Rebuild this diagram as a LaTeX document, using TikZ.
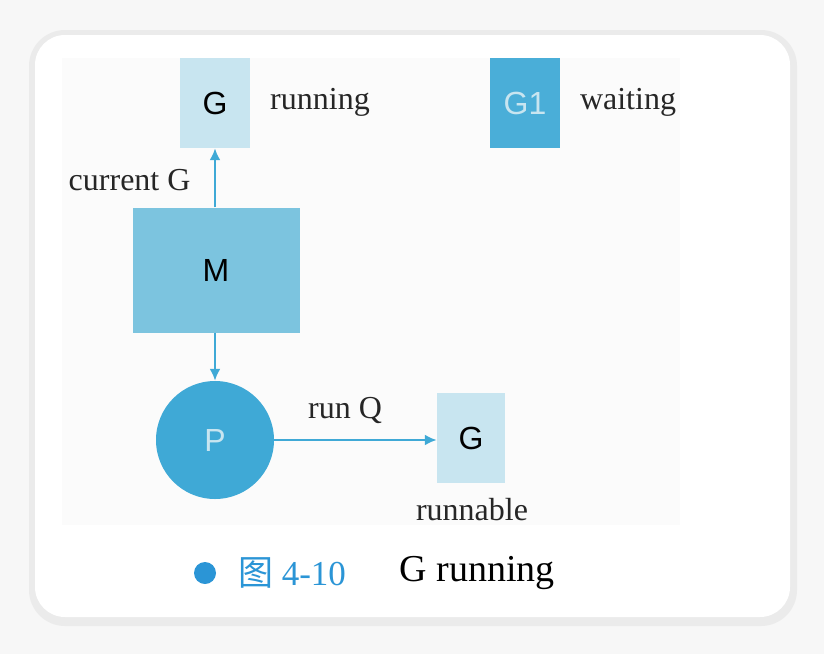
\documentclass[tikz,border=0pt]{standalone}
\usepackage{fontspec}
\setmainfont{Liberation Serif}
\newfontfamily\sansf{Liberation Sans}
\newfontfamily\cjk{Noto Sans CJK SC}
\usetikzlibrary{arrows.meta}
\definecolor{lightg}{HTML}{C8E5F0}
\definecolor{darkg}{HTML}{4AAED8}
\definecolor{mcol}{HTML}{7CC4DF}
\definecolor{pcol}{HTML}{3FA9D6}
\definecolor{capblue}{HTML}{2B95D6}
\tikzset{
 x=1pt,y=-1pt,
 box/.style={draw=none,inner sep=0pt,font=\sansf\fontsize{32}{32}\selectfont},
 lbl/.style={font=\fontsize{32}{32}\selectfont,text=black!85},
 arr/.style={draw=pcol,line width=2.4pt,-{Latex[length=12pt,width=11pt]}}
}
\begin{document}
\begin{tikzpicture}
\useasboundingbox (0,0) rectangle (824,654);
\fill[black!3] (0,0) rectangle (824,654);
\fill[black!8,rounded corners=36pt] (29,30) rectangle (797,626);
\fill[white,rounded corners=30pt] (35,35) rectangle (790,617);
\fill[black!1.5] (62,58) rectangle (680,525);
\node[box,fill=lightg,minimum width=70pt,minimum height=90pt] (g) at (215,103) {G};
\node[lbl] (grun) at (320,102) {running};
\node[box,fill=darkg,minimum width=70pt,minimum height=90pt,text=lightg] (g1) at (525,103) {G1};
\node[lbl] (gwait) at (628,102) {waiting};
\node[box,fill=mcol,minimum width=167pt,minimum height=125pt] (m) at (216,270) {M};
\node[lbl,anchor=east] (cur) at (194,180) {current G};
\node[box,circle,fill=pcol,minimum size=118pt,text=lightg] (p) at (215,440) {P};
\node[box,fill=lightg,minimum width=68pt,minimum height=90pt] (rg) at (471,438) {G};
\node[lbl] (rq) at (345,410) {run Q};
\node[lbl] (rn) at (472,510) {runnable};
\draw[arr] (m.north -| g.south) -- (g.south);
\draw[arr] (m.south -| p.north) -- (p.north);
\draw[arr] (p.east) -- (rg.west |- p.east);
\fill[capblue] (205,573) circle (11);
\node[font=\fontsize{35}{35}\selectfont,text=capblue] (fig) at (292,573) {{\cjk 图} 4-10};
\node[font=\fontsize{38}{38}\selectfont] (cap) at (477,573) {G running};
\end{tikzpicture}
\end{document}
